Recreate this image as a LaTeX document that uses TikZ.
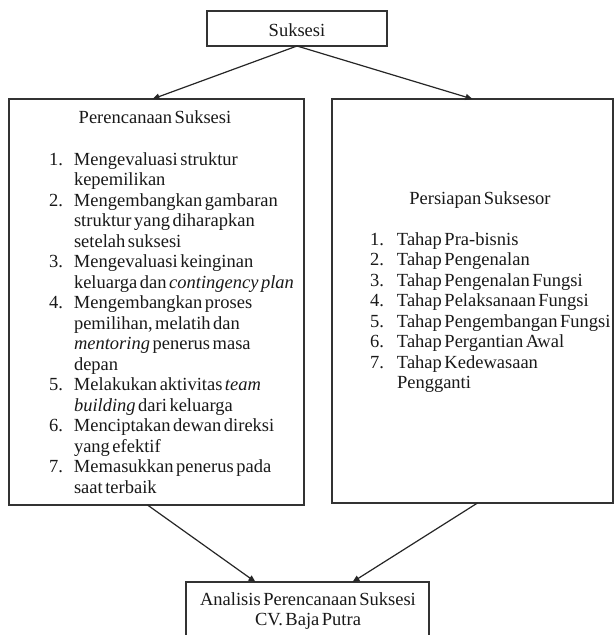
\documentclass[tikz,border=0pt]{standalone}
\usepackage{fontspec}
\setmainfont{Liberation Serif}[WordSpace=0.55]
\usetikzlibrary{arrows.meta}
\newcommand\numL[1]{\makebox[25pt][l]{#1}}
\newcommand\indL{\hspace*{25pt}}
\newcommand\numR[1]{\makebox[27pt][l]{#1}}
\newcommand\indR{\hspace*{27pt}}
\begin{document}
\begin{tikzpicture}[x=1pt,y=-1pt,
  box/.style={draw=black!80,line width=1.5pt,inner sep=0pt,outer sep=0pt},
  txt/.style={inner sep=0pt,outer sep=0pt,font=\fontsize{18.5}{20.5}\selectfont,text=black!90},
  arr/.style={-{Triangle[length=7pt,width=6pt]},line width=1.2pt,draw=black!85}]
\fill[white] (0,0) rectangle (615,635);
\useasboundingbox (0,0) rectangle (615,635);
% boxes
\node[box,minimum width=180pt,minimum height=35pt] (suk) at (297,28.5) {};
\node[box,minimum width=295pt,minimum height=406pt] (plan) at (156.5,302) {};
\node[box,minimum width=281pt,minimum height=404pt] (prep) at (472.5,301) {};
\node[box,minimum width=243pt,minimum height=60pt] (anal) at (307.5,612) {};
% texts
\node[txt,anchor=base] (suktxt) at (297,36.5) {Suksesi};
\node[txt,anchor=base] (plantitle) at (155,123) {Perencanaan Suksesi};
\node[txt,anchor=north west,align=left] (planlist) at (49,150.65) {%
\strut\numL{1.}Mengevaluasi struktur\\
\indL kepemilikan\\
\numL{2.}Mengembangkan gambaran\\
\indL struktur yang diharapkan\\
\indL setelah suksesi\\
\numL{3.}Mengevaluasi keinginan\\
\indL keluarga dan \textit{contingency plan}\\
\numL{4.}Mengembangkan proses\\
\indL pemilihan, melatih dan\\
\indL\textit{mentoring} penerus masa\\
\indL depan\\
\numL{5.}Melakukan aktivitas \textit{team}\\
\indL\textit{building} dari keluarga\\
\numL{6.}Menciptakan dewan direksi\\
\indL yang efektif\\
\numL{7.}Memasukkan penerus pada\\
\indL saat terbaik};
\node[txt,anchor=base] (preptitle) at (480,204) {Persiapan Suksesor};
\node[txt,anchor=north west,align=left] (preplist) at (370,230.65) {%
\strut\numR{1.}Tahap Pra-bisnis\\
\numR{2.}Tahap Pengenalan\\
\numR{3.}Tahap Pengenalan Fungsi\\
\numR{4.}Tahap Pelaksanaan Fungsi\\
\numR{5.}Tahap Pengembangan Fungsi\\
\numR{6.}Tahap Pergantian Awal\\
\numR{7.}Tahap Kedewasaan\\
\indR Pengganti};
\node[txt,anchor=north,align=center] (analtxt) at (308,590.65) {\strut Analisis Perencanaan Suksesi\\CV. Baja Putra};
% connectors
\draw[arr] (suk.south) -- ([xshift=-4pt]plan.north);
\draw[arr] (suk.south) -- (prep.north);
\draw[arr] ([xshift=-9pt]plan.south) -- ([xshift=-52pt]anal.north);
\draw[arr] ([xshift=5pt]prep.south) -- ([xshift=45pt]anal.north);
\end{tikzpicture}
\end{document}
